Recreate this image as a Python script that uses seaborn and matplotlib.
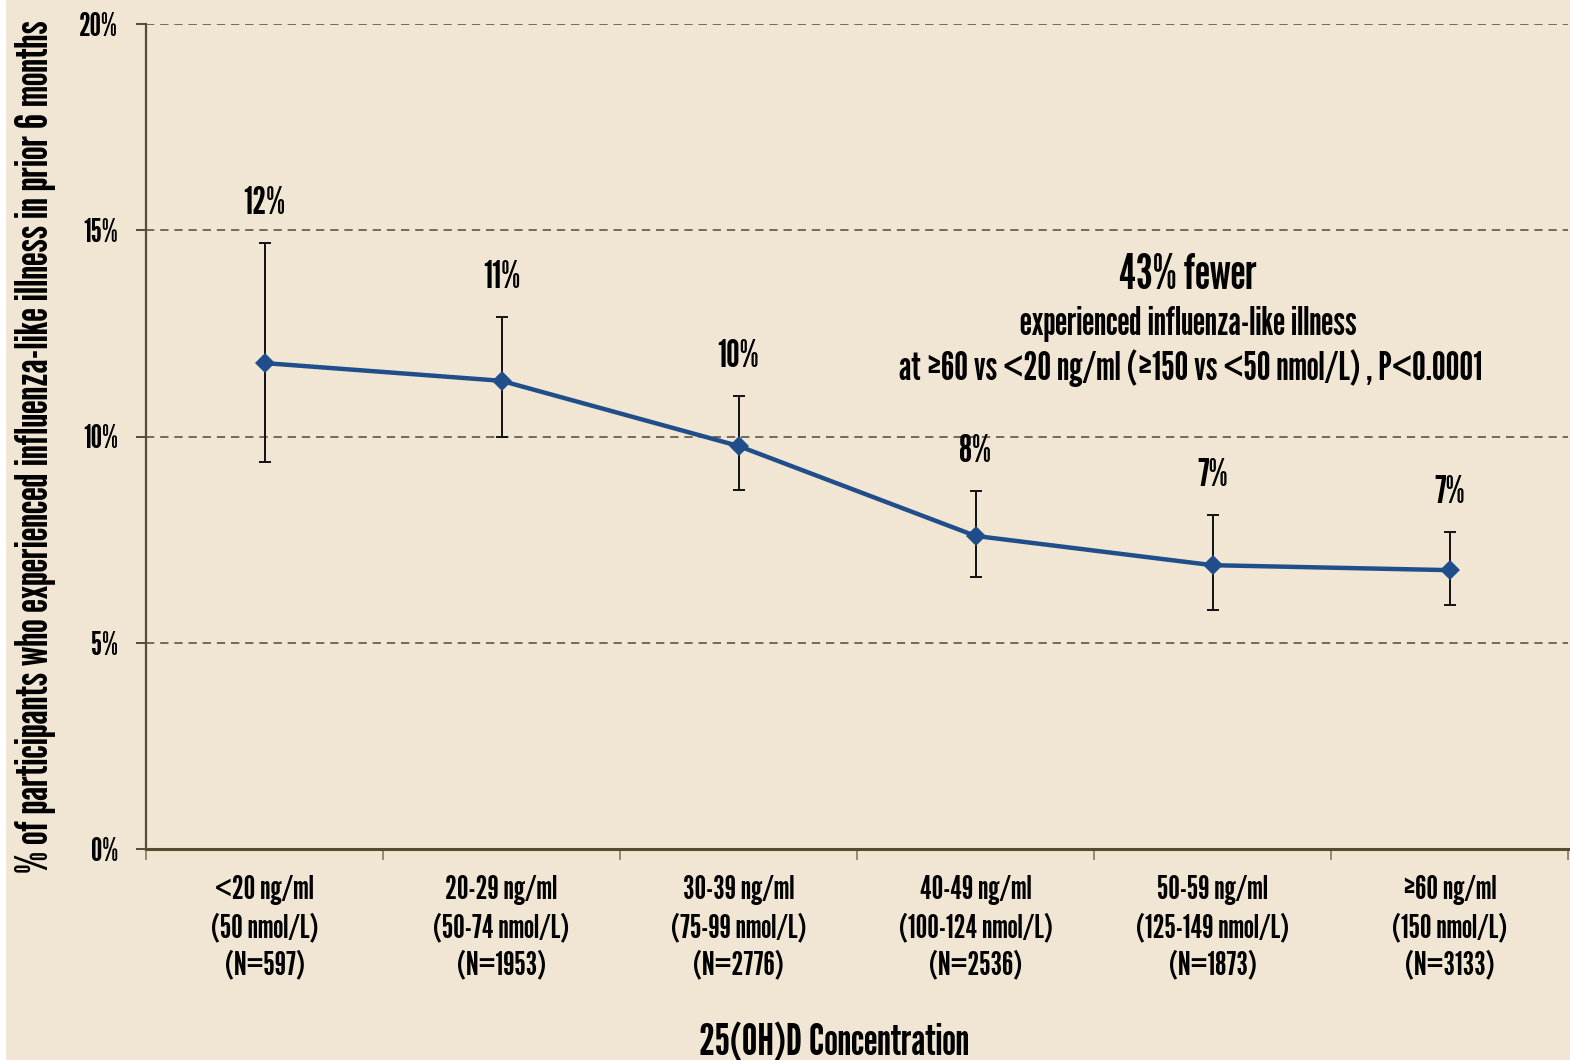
import matplotlib
matplotlib.use("Agg")
import matplotlib.pyplot as plt
from matplotlib.patches import Rectangle
from matplotlib.ticker import FixedLocator
import seaborn as sns
import pandas as pd
import numpy as np

# ---- data ----
conc_ng = ["<20 ng/ml", "20-29 ng/ml", "30-39 ng/ml", "40-49 ng/ml", "50-59 ng/ml", "\u226560 ng/ml"]
conc_nmol = ["(50 nmol/L)", "(50-74 nmol/L)", "(75-99 nmol/L)", "(100-124 nmol/L)", "(125-149 nmol/L)", "(150 nmol/L)"]
n_counts = [597, 1953, 2776, 2536, 1873, 3133]
pct = [11.78, 11.35, 9.77, 7.59, 6.88, 6.76]
ci_low = [9.38, 10.00, 8.70, 6.59, 5.79, 5.92]
ci_high = [14.69, 12.90, 10.98, 8.68, 8.10, 7.68]
y_ticks = [0, 5, 10, 15, 20]

BG = "#F1E6D3"
AXC = "#564B30"
GRIDC = "#5E5640"
LINEC = "#1F4E8A"

sns.set_theme(style="white")
plt.rcParams["font.family"] = ["League Gothic", "Oswald", "Antonio", "DejaVu Sans"]

W, H = 1570, 1060
fig = plt.figure(figsize=(W / 100, H / 100), dpi=100, facecolor=BG)
fig.patches.append(Rectangle((0, 0), 5 / W, 1, transform=fig.transFigure, color="white", zorder=0))
ax = fig.add_axes([146 / W, 1 - 849 / H, 1422 / W, 825 / H])
ax.set_facecolor(BG)

df = pd.DataFrame({
    "pos": np.arange(len(pct)),
    "pct": pct,
    "low": ci_low,
    "high": ci_high,
})
df["label"] = [f"{a}\n{b}\n(N={n})" for a, b, n in zip(conc_ng, conc_nmol, n_counts)]

ax.errorbar(df["pos"], df["pct"], yerr=[df["pct"] - df["low"], df["high"] - df["pct"]],
            fmt="none", ecolor="#111111", elinewidth=1.4, capsize=4.5, capthick=1.4, zorder=3)
sns.lineplot(data=df, x="pos", y="pct", ax=ax, color=LINEC, linewidth=3.2,
             marker="D", markersize=10, markeredgewidth=0, zorder=4)

for _, r in df.iterrows():
    ax.annotate(f"{round(r['pct']):.0f}%", (r["pos"], r["high"]), xytext=(0, 28.5),
                textcoords="offset points", ha="center", va="center", fontsize=27.5, color="black")

ax.set_xlim(-0.5, len(pct) - 0.5)
ax.set_ylim(0, 20)
ax.set_yticks(y_ticks)
ax.set_yticklabels([f"{t}%" for t in y_ticks])
ax.set_xticks(df["pos"])
ax.set_xticklabels(df["label"], linespacing=1.32)
ax.xaxis.set_minor_locator(FixedLocator(np.arange(-0.5, len(pct), 1.0)))

ax.tick_params(axis="x", which="major", length=0, pad=19, labelsize=23.5, labelcolor="black")
ax.tick_params(axis="x", which="minor", length=8, width=1.3, color="#8A8270", direction="out", bottom=True)
ax.tick_params(axis="y", which="major", length=7, width=1.4, color=AXC, direction="out", left=True,
               pad=13, labelsize=23, labelcolor="black")

for y in y_ticks[1:]:
    ax.axhline(y, color=GRIDC, linewidth=1.2, linestyle=(0, (5, 3.5)), zorder=1)

for s in ["top", "right"]:
    ax.spines[s].set_visible(False)
ax.spines["left"].set_color(AXC)
ax.spines["left"].set_linewidth(1.6)
ax.spines["bottom"].set_color(AXC)
ax.spines["bottom"].set_linewidth(2.2)

ax.set_ylabel("% of participants who experienced influenza-like illness in prior 6 months",
              fontsize=32, color="black", va="center")
ax.yaxis.set_label_coords(-0.0774, 0.488)
ax.set_xlabel("25(OH)D Concentration", fontsize=31.5, color="black", va="center")
ax.xaxis.set_label_coords(0.4838, -0.2345)

ax.text(3.897, 13.90, "43% fewer", ha="center", va="center", fontsize=34.5, color="black")
ax.text(3.897, 12.73, "experienced influenza-like illness", ha="center", va="center", fontsize=28, color="black")
ax.text(3.91, 11.66, "at \u226560 vs <20 ng/ml (\u2265150 vs <50 nmol/L) , P<0.0001",
        ha="center", va="center", fontsize=28, color="black")

fig.savefig("out.png", dpi=100, facecolor=BG)
